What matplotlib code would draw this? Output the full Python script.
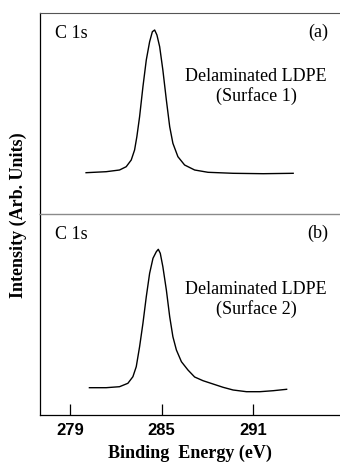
import numpy as np
import matplotlib.pyplot as plt

# Spektren (Bindungsenergie in eV, Intensitaet willkuerlich)
energie_a = [280.03, 281.35, 282.23, 282.67, 283.00, 283.22, 283.37, 283.55, 283.77, 283.99,
             284.21, 284.39, 284.54, 284.69, 284.87, 285.08, 285.31, 285.53, 285.74, 286.07,
             286.51, 287.17, 288.05, 289.70, 291.68, 293.65]
intens_a = [41.3, 42.3, 44.0, 47.3, 54.0, 64.0, 77.3, 97.3, 127.3, 154.0,
            172.3, 182.3, 184.0, 179.0, 167.3, 144.0, 114.0, 87.3, 70.7, 57.3,
            49.0, 44.0, 41.7, 40.7, 40.3, 40.7]

energie_b = [280.25, 281.35, 282.23, 282.78, 283.11, 283.33, 283.55, 283.77, 283.99, 284.21,
             284.43, 284.65, 284.78, 284.91, 285.08, 285.31, 285.53, 285.74, 285.97, 286.30,
             286.73, 287.17, 287.72, 288.38, 289.04, 289.70, 290.58, 291.46, 292.34, 293.22]
intens_b = [27.3, 27.3, 28.3, 31.7, 38.3, 48.3, 68.3, 91.7, 118.3, 141.7,
            156.7, 163.3, 165.7, 161.7, 148.3, 125.0, 98.3, 78.3, 65.0, 53.3,
            45.0, 38.0, 34.3, 31.0, 27.7, 25.0, 23.3, 23.3, 24.3, 25.7]

xticks = [279, 285, 291]
panel_labels = ["(a)", "(b)"]
proben = ["Delaminated LDPE\n(Surface 1)", "Delaminated LDPE\n(Surface 2)"]

serif = "Liberation Serif"
sans = "Liberation Sans"

fig = plt.figure(figsize=(3.4, 4.68), dpi=100)
W, H = 340, 468
left = 40 / W
ax1 = fig.add_axes([left, 1 - 214 / H, 1 - left, 201 / H])
ax2 = fig.add_axes([left, 1 - 415 / H, 1 - left, 201 / H])

for ax, x, y, lab, probe, ytxt in [(ax1, energie_a, intens_a, panel_labels[0], proben[0], 0.635),
                                  (ax2, energie_b, intens_b, panel_labels[1], proben[1], 0.575)]:
    ax.plot(x, y, color="black", lw=1.0)
    ax.set_xlim(277.0, 296.73)
    ax.set_ylim(0, 201)
    ax.set_yticks([])
    ax.patch.set_alpha(0)
    ax.spines["right"].set_visible(False)
    ax.text(0.05, 0.90, "C 1s", transform=ax.transAxes, fontsize=13,
            family=serif, ha="left", va="center")
    ax.text(0.927, 0.905, lab, transform=ax.transAxes, fontsize=13,
            family=serif, ha="center", va="center")
    ax.text(0.72, ytxt, probe, transform=ax.transAxes, fontsize=13,
            family=serif, ha="center", va="center", multialignment="center",
            linespacing=1.15)

ax1.set_xticks([])
ax1.spines["top"].set_color("#555555")
ax1.spines["top"].set_linewidth(0.8)
ax1.spines["bottom"].set_visible(False)
ax1.spines["left"].set_linewidth(0.9)

# Trennlinie zwischen den Panels
ax2.spines["top"].set_color("#8a8a8a")
ax2.spines["top"].set_linewidth(1.0)
ax2.spines["left"].set_linewidth(0.9)
ax2.spines["bottom"].set_linewidth(0.9)
ax2.set_xticks(xticks)
ax2.set_xticklabels([str(t) for t in xticks], family=sans, fontweight="bold", fontsize=12)
ax2.tick_params(axis="x", direction="in", length=8, width=0.9, pad=6)

fig.text(190 / W, 1 - 453 / H, "Binding  Energy (eV)", family=serif, fontweight="bold",
         fontsize=13, ha="center", va="center")
fig.text(18 / W, 1 - 215 / H, "Intensity (Arb. Units)", family=serif, fontweight="bold",
         fontsize=13, ha="center", va="center", rotation=90)

fig.savefig("out.png", dpi=100)
